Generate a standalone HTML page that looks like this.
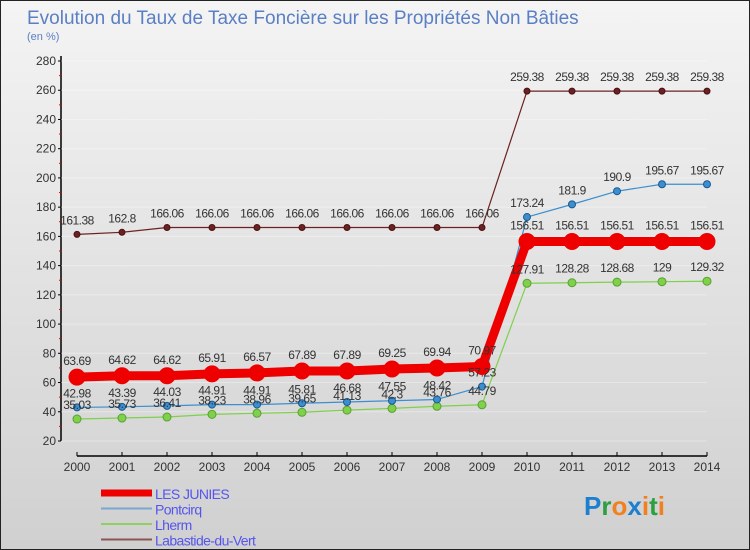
<!DOCTYPE html>
<html><head><meta charset="utf-8"><style>
body{margin:0}
#c{width:750px;height:550px;position:relative;background:linear-gradient(#f4f4f4,#d0d0d0);box-sizing:border-box;border:1px solid #222;font-family:"Liberation Sans",sans-serif;overflow:hidden}
text{font-family:"Liberation Sans",sans-serif}
</style></head><body>
<div id="c">
<svg id="s" width="750" height="550"></svg>
</div>
<script>
const years=[2000,2001,2002,2003,2004,2005,2006,2007,2008,2009,2010,2011,2012,2013,2014];
const lesJunies=[63.69,64.62,64.62,65.91,66.57,67.89,67.89,69.25,69.94,70.97,156.51,156.51,156.51,156.51,156.51];
const pontcirq=[42.98,43.39,44.03,44.91,44.91,45.81,46.68,47.55,48.42,57.23,173.24,181.9,190.9,195.67,195.67];
const lherm=[35.03,35.73,36.41,38.23,38.96,39.65,41.13,42.3,43.76,44.79,127.91,128.28,128.68,129,129.32];
const labastide=[161.38,162.8,166.06,166.06,166.06,166.06,166.06,166.06,166.06,166.06,259.38,259.38,259.38,259.38,259.38];
const yTicks=[20,40,60,80,100,120,140,160,180,200,220,240,260,280];
const NS='http://www.w3.org/2000/svg';
const svg=document.getElementById('s');
const X=i=>76+i*45;
const Y=v=>440-(v-20)*380/260;
function el(t,a,txt){const e=document.createElementNS(NS,t);for(const k in a)e.setAttribute(k,a[k]);if(txt!==undefined)e.textContent=txt;svg.appendChild(e);return e;}
let t=el('text',{x:26,y:23,'font-size':19,fill:'#5a7fc4'},'Evolution du Taux de Taxe Foncière sur les Propriétés Non Bâties');


t=el('text',{x:26,y:39,'font-size':11,fill:'#5a7fc4'},'(en %)');


let a=el('line',{x1:60,y1:55,x2:60,y2:440,stroke:'#000','stroke-width':1.5});


a=el('line',{x1:76,y1:455,x2:706,y2:455,stroke:'#000','stroke-width':1.5});


yTicks.forEach(v=>{
 el('line',{x1:57,y1:Y(v),x2:60,y2:Y(v),stroke:'#000'});
 el('line',{x1:60,y1:Y(v),x2:706,y2:Y(v),stroke:'#fff','stroke-opacity':0.35});
 if(v<280)el('line',{x1:58,y1:Y(v+10),x2:60,y2:Y(v+10),stroke:'#e00'});
 const l=el('text',{x:55,y:Y(v)+4,'font-size':12,fill:'#333','text-anchor':'end'},v);
 
 
});
years.forEach((y,i)=>{
 el('line',{x1:X(i),y1:451,x2:X(i),y2:455,stroke:'#000'});
 const l=el('text',{x:X(i),y:470,'font-size':12,fill:'#333','text-anchor':'middle'},y);
 
 
});
function series(data,color,w,r,name,stroke){
 const p=el('polyline',{points:data.map((v,i)=>X(i)+','+Y(v)).join(' '),fill:'none',stroke:color,'stroke-width':w,'stroke-linejoin':'round'});
 
 
 data.forEach((v,i)=>{
  const c=el('circle',{cx:X(i),cy:Y(v),r:r,fill:color,stroke:stroke,'stroke-width':1});
  
  
 });
}
function labels(data,name,dy){
 data.forEach((v,i)=>{
  const l=el('text',{x:X(i),y:Y(v)+dy,'font-size':12,fill:'#333','text-anchor':'middle','letter-spacing':'-0.5'},v);
  
  
 });
}
series(labastide,'#6b2222',1.2,3,'labastide','#4a1010');
series(lherm,'#7fd04a',1.2,4,'lherm','#5aa030');
series(pontcirq,'#3b8fd0',1.2,3.5,'pontcirq','#1a5a90');
series(lesJunies,'#ee0000',9,8,'les-junies','#ee0000');
labels(labastide,'labastide',-10);
labels(lherm,'lherm',-10);
labels(pontcirq,'pontcirq',-10);
labels(lesJunies,'les-junies',-12);
const leg=[['LES JUNIES','#ee0000',7],['Pontcirq','#7aa8d0',2],['Lherm','#90d060',2],['Labastide-du-Vert','#8a5555',2]];
leg.forEach((d,i)=>{
 const y=492+i*15.5;
 const s=el('line',{x1:100,y1:y,x2:151,y2:y,stroke:d[1],'stroke-width':d[2]});
 
 
 const l=el('text',{x:154,y:y+6,'font-size':14,fill:'#5555ee','letter-spacing':'-0.6'},d[0]);
 
 
});
const lg=el('text',{x:583,y:514,'font-size':26,'font-weight':'bold'});


[['P','#1e7fd0'],['r','#2aa040'],['o','#f08020'],['x','#1e7fd0'],['i','#f08020'],['t','#2aa040'],['i','#f08020']].forEach(p=>{const s=document.createElementNS(NS,'tspan');s.setAttribute('fill',p[1]);s.textContent=p[0];lg.appendChild(s);});
</script>
</body></html>
